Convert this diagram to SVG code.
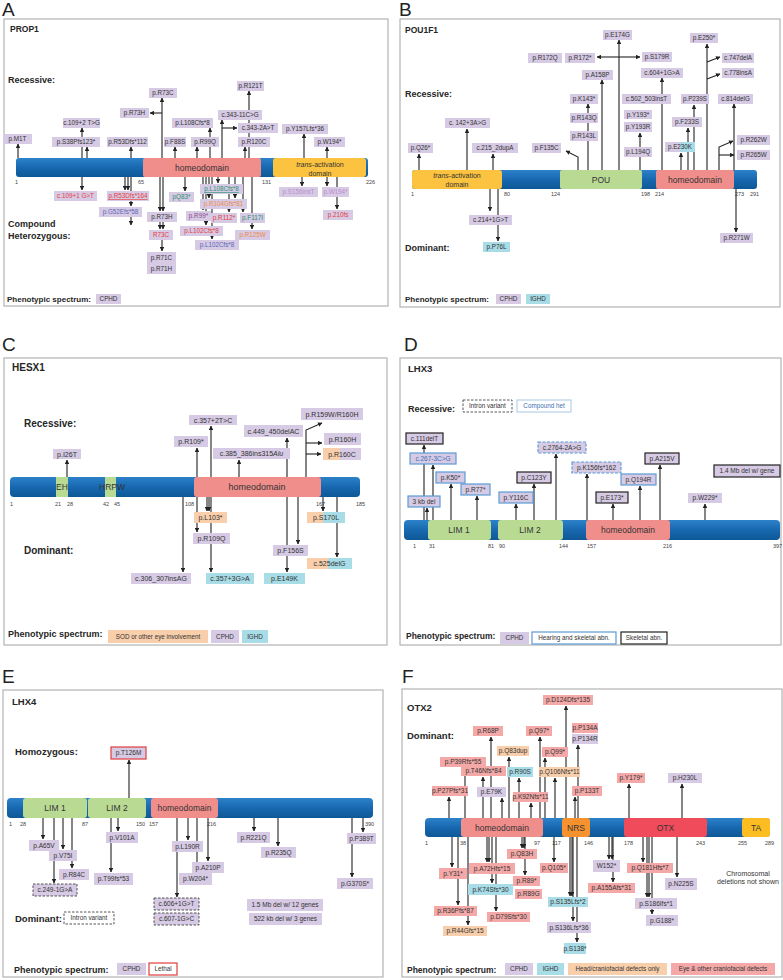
<svg xmlns="http://www.w3.org/2000/svg" width="783" height="980" viewBox="0 0 783 980">
<style>
.l{font-family:"Liberation Sans",Arial,sans-serif;font-size:6.3px;fill:#333;text-anchor:middle}
.l7{font-size:7px}
.l65{font-size:6.5px}
.hd{font-family:"Liberation Sans",Arial,sans-serif;font-weight:bold;fill:#262626}
.pl{font-family:"Liberation Sans",Arial,sans-serif;fill:#222;font-size:19px}
.n{font-family:"Liberation Sans",Arial,sans-serif;font-size:5.5px;fill:#444}
.dm{font-family:"Liberation Sans",Arial,sans-serif;fill:#333;text-anchor:middle}
.p{fill:#d6cae4}.y{fill:#a8dce7}.o{fill:#f9cfab}.k{fill:#f4a9a8}
.bk{stroke:#222;stroke-width:1.2}.bl{stroke:#5b9bd5;stroke-width:1.2}
.ds{stroke:#444;stroke-width:0.9;stroke-dasharray:2.5,1.5}
.bld{stroke:#5b9bd5;stroke-width:1.2;stroke-dasharray:3,1.5}
.wh{fill:#fff}
.c{stroke:#222;stroke-width:1.1;fill:none;marker-end:url(#ah)}
.fr{fill:#fff;stroke:#b3b3b3;stroke-width:1.2}
.bar{fill:url(#blu)}
.hm{fill:#f08e8c}.gr{fill:#b9da93}.ye{fill:#fcc340}
.red{fill:#e63c3c}.org{fill:#ef8a48}.tl{fill:#2a9070}.blt{fill:#5b69b8}.lav{fill:#b98dcc}.mv{fill:#8c4a8c}.bt{fill:#3d6fb5}
</style>
<defs>
<linearGradient id="blu" x1="0" y1="0" x2="0" y2="1"><stop offset="0" stop-color="#2c82c9"/><stop offset="0.5" stop-color="#1868b0"/><stop offset="1" stop-color="#0d5896"/></linearGradient>
<marker id="ah" viewBox="0 0 10 10" refX="9" refY="5" markerWidth="4.5" markerHeight="4.5" markerUnits="userSpaceOnUse" orient="auto"><path d="M0,0 L10,5 L0,10 z" fill="#222"/></marker>
</defs>
<rect width="783" height="980" fill="#fff"/>

<g id="frames">
<rect class="fr" x="4" y="19" width="384" height="287"/>
<rect class="fr" x="400" y="19" width="380" height="288"/>
<rect class="fr" x="4" y="358" width="383" height="287"/>
<rect class="fr" x="400" y="358" width="381" height="287"/>
<rect class="fr" x="3" y="690" width="380" height="287"/>
<rect class="fr" x="402" y="689" width="380" height="288"/>
<text class="pl" x="2" y="16">A</text>
<text class="pl" x="399" y="16">B</text>
<text class="pl" x="2" y="351">C</text>
<text class="pl" x="404" y="351">D</text>
<text class="pl" x="2" y="683">E</text>
<text class="pl" x="402" y="683">F</text>
</g>

<!-- ================= PANEL A ================= -->
<g id="A-text">
<text class="hd" x="10" y="32" font-size="8.5">PROP1</text>
<text class="hd" x="8" y="83" font-size="9">Recessive:</text>
<text class="hd" x="8" y="227" font-size="9">Compound</text>
<text class="hd" x="8" y="239" font-size="9">Heterozygous:</text>
<text class="hd" x="7" y="302" font-size="8">Phenotypic spectrum:</text>
</g>
<g id="A-legend-cphd"><rect class="p" x="96" y="294" width="25" height="10"/><text class="l" x="108.5" y="301.2">CPHD</text></g>
<g id="A-protein">
<rect class="bar" x="16" y="158" width="352" height="19" rx="3"/>
<rect class="hm" x="143" y="158" width="118" height="19" rx="2"/>
<rect class="ye" x="273" y="158" width="93" height="19" rx="3"/>
<text class="dm" x="202" y="171" font-size="8.5">homeodomain</text>
<text class="dm" x="320" y="166.5" font-size="7"><tspan font-style="italic">trans</tspan>-activation</text>
<text class="dm" x="320" y="175.5" font-size="7">domain</text>
<text class="n" x="15" y="184">1</text><text class="n" x="138" y="184">65</text><text class="n" x="262" y="184">131</text><text class="n" x="366" y="184">226</text>
</g>

<!-- ================= PANEL B ================= -->
<g id="B-text">
<text class="hd" x="405" y="33" font-size="8.5">POU1F1</text>
<text class="hd" x="405" y="97" font-size="9">Recessive:</text>
<text class="hd" x="405" y="251" font-size="9">Dominant:</text>
<text class="hd" x="405" y="302" font-size="8">Phenotypic spectrum:</text>
</g>
<g id="B-legend-cphd"><rect class="p" x="496" y="294" width="25" height="10"/><text class="l" x="508.5" y="301.2">CPHD</text></g>
<g id="B-legend-ighd"><rect class="y" x="526" y="294" width="24" height="10"/><text class="l" x="538" y="301.2">IGHD</text></g>
<g id="B-protein">
<rect class="bar" x="412" y="170" width="345" height="19" rx="3"/>
<rect class="ye" x="412" y="170" width="90" height="19" rx="3"/>
<rect class="gr" x="560" y="170" width="82" height="19" rx="2"/>
<rect class="hm" x="656" y="170" width="78" height="19" rx="2"/>
<text class="dm" x="457" y="178" font-size="7"><tspan font-style="italic">trans</tspan>-activation</text>
<text class="dm" x="457" y="187" font-size="7">domain</text>
<text class="dm" x="601" y="183" font-size="8.5">POU</text>
<text class="dm" x="695" y="183" font-size="8.5">homeodomain</text>
<text class="n" x="411" y="196">1</text><text class="n" x="504" y="196">80</text><text class="n" x="551" y="196">124</text><text class="n" x="641" y="196">198</text><text class="n" x="655" y="196">214</text><text class="n" x="735" y="196">273</text><text class="n" x="750" y="196">291</text>
</g>

<!-- ================= PANEL C ================= -->
<g id="C-text">
<text class="hd" x="12" y="371" font-size="10">HESX1</text>
<text class="hd" x="24" y="427" font-size="10">Recessive:</text>
<text class="hd" x="24" y="554" font-size="10">Dominant:</text>
<text class="hd" x="8" y="637" font-size="9">Phenotypic spectrum:</text>
</g>
<g id="C-legend-sod"><rect class="o" x="108" y="630" width="100" height="13"/><text class="l" x="158" y="638.8">SOD or other eye involvement</text></g>
<g id="C-legend-cphd"><rect class="p" x="211" y="630" width="28" height="13"/><text class="l" x="225" y="638.8">CPHD</text></g>
<g id="C-legend-ighd"><rect class="y" x="242" y="630" width="26" height="13"/><text class="l" x="255" y="638.8">IGHD</text></g>
<g id="C-protein">
<rect class="bar" x="10" y="477" width="350" height="20" rx="4"/>
<rect class="gr" x="56" y="477" width="12" height="20"/>
<rect class="gr" x="105" y="477" width="11" height="20"/>
<rect class="hm" x="194" y="477" width="127" height="20" rx="3"/>
<text class="dm" x="62" y="490" font-size="8.5">EH</text>
<text class="dm" x="112" y="490" font-size="8.5">HRPW</text>
<text class="dm" x="257" y="490" font-size="9">homeodomain</text>
<text class="n" x="10" y="506">1</text><text class="n" x="55" y="506">21</text><text class="n" x="67" y="506">28</text><text class="n" x="103" y="506">42</text><text class="n" x="114" y="506">45</text><text class="n" x="185" y="506">108</text><text class="n" x="316" y="506">167</text><text class="n" x="356" y="506">185</text>
</g>

<!-- ================= PANEL D ================= -->
<g id="D-text">
<text class="hd" x="408" y="372" font-size="9.5">LHX3</text>
<text class="hd" x="408" y="412" font-size="9">Recessive:</text>
<text class="hd" x="406" y="639" font-size="8.5">Phenotypic spectrum:</text>
</g>
<g id="D-legend-intron"><rect class="wh ds" x="463" y="400" width="49" height="12"/><text class="l" x="487.5" y="408.2">Intron variant</text></g>
<g id="D-legend-comp"><rect class="wh" x="517" y="400" width="54" height="12" stroke="#a9c8e6" stroke-width="1"/><text class="l bt" x="544" y="408.2">Compound het</text></g>
<g id="D-legend-cphd"><rect class="p" x="500" y="632" width="29" height="12"/><text class="l" x="514.5" y="640.2">CPHD</text></g>
<g id="D-legend-hear"><rect class="wh bl" x="532" y="632" width="84" height="12"/><text class="l" x="574" y="640.2">Hearing and skeletal abn.</text></g>
<g id="D-legend-skel"><rect class="wh bk" x="621" y="632" width="46" height="12"/><text class="l" x="644" y="640.2">Skeletal abn.</text></g>
<g id="D-protein">
<rect class="bar" x="404" y="520" width="376" height="20" rx="4"/>
<rect class="gr" x="428" y="520" width="63" height="20" rx="3"/>
<rect class="gr" x="498" y="520" width="65" height="20" rx="3"/>
<rect class="hm" x="586" y="520" width="84" height="20" rx="3"/>
<text class="dm" x="459" y="533" font-size="8.5">LIM 1</text>
<text class="dm" x="530" y="533" font-size="8.5">LIM 2</text>
<text class="dm" x="628" y="533" font-size="8.5">homeodomain</text>
<text class="n" x="413" y="548">1</text><text class="n" x="429" y="548">31</text><text class="n" x="488" y="548">81</text><text class="n" x="499" y="548">90</text><text class="n" x="559" y="548">144</text><text class="n" x="587" y="548">157</text><text class="n" x="663" y="548">216</text><text class="n" x="773" y="548">397</text>
</g>

<!-- ================= PANEL E ================= -->
<g id="E-text">
<text class="hd" x="12" y="705" font-size="9.5">LHX4</text>
<text class="hd" x="15" y="755" font-size="9.5">Homozygous:</text>
<text class="hd" x="15" y="922" font-size="9.5">Dominant:</text>
<text class="hd" x="14" y="973" font-size="9">Phenotypic spectrum:</text>
</g>
<g id="E-legend-intron"><rect class="wh ds" x="64" y="912" width="50" height="12"/><text class="l" x="89" y="920.2">Intron variant</text></g>
<g id="E-legend-cphd"><rect class="p" x="117" y="963" width="29" height="12"/><text class="l" x="131.5" y="971.2">CPHD</text></g>
<g id="E-legend-lethal"><rect class="wh" x="149" y="963" width="28" height="12" stroke="#e03c3c" stroke-width="1.2"/><text class="l" x="163" y="971.2">Lethal</text></g>
<g id="E-protein">
<rect class="bar" x="7" y="798" width="366" height="20" rx="4"/>
<rect class="gr" x="23" y="798" width="64" height="20" rx="3"/>
<rect class="gr" x="88" y="798" width="58" height="20" rx="3"/>
<rect class="hm" x="151" y="798" width="67" height="20" rx="3"/>
<text class="dm" x="55" y="811" font-size="8.5">LIM 1</text>
<text class="dm" x="117" y="811" font-size="8.5">LIM 2</text>
<text class="dm" x="184.5" y="811" font-size="8.5">homeodomain</text>
<text class="n" x="9" y="826">1</text><text class="n" x="20" y="826">28</text><text class="n" x="82" y="826">87</text><text class="n" x="136" y="826">150</text><text class="n" x="149" y="826">157</text><text class="n" x="207" y="826">216</text><text class="n" x="365" y="826">390</text>
</g>

<!-- ================= PANEL F ================= -->
<g id="F-text">
<text class="hd" x="407" y="711" font-size="9.5">OTX2</text>
<text class="hd" x="407" y="739" font-size="9.5">Dominant:</text>
<text class="hd" x="407" y="973" font-size="8.5">Phenotypic spectrum:</text>
<text class="dm" x="748" y="876" font-size="7">Chromosomal</text>
<text class="dm" x="748" y="884" font-size="7">deletions not shown</text>
</g>
<g id="F-legend-cphd"><rect class="p" x="505" y="963" width="28" height="12"/><text class="l" x="519" y="971.2">CPHD</text></g>
<g id="F-legend-ighd"><rect class="y" x="537" y="963" width="27" height="12"/><text class="l" x="550.5" y="971.2">IGHD</text></g>
<g id="F-legend-head"><rect class="o" x="568" y="963" width="99" height="12"/><text class="l" x="617.5" y="971.2">Head/craniofacial defects only</text></g>
<g id="F-legend-eye"><rect class="k" x="671" y="963" width="104" height="12"/><text class="l" x="723" y="971.2">Eye &amp; other craniofacial defects</text></g>
<g id="F-protein">
<rect class="bar" x="425" y="818" width="345" height="19" rx="4"/>
<rect class="hm" x="461" y="818" width="82" height="19" rx="3"/>
<rect x="562" y="818" width="28" height="19" rx="3" fill="#f7922e"/>
<rect x="624" y="818" width="83" height="19" rx="3" fill="#ef4b5b"/>
<rect x="742" y="818" width="28" height="19" rx="3" fill="#fbbd22"/>
<text class="dm" x="502" y="831" font-size="8.5">homeodomain</text>
<text class="dm" x="576" y="831" font-size="8.5">NRS</text>
<text class="dm" x="665.5" y="831" font-size="8.5">OTX</text>
<text class="dm" x="756" y="831" font-size="8.5">TA</text>
<text class="n" x="425" y="845">1</text><text class="n" x="460" y="845">38</text><text class="n" x="534" y="845">97</text><text class="n" x="552" y="845">117</text><text class="n" x="584" y="845">146</text><text class="n" x="624" y="845">178</text><text class="n" x="696" y="845">243</text><text class="n" x="738" y="845">255</text><text class="n" x="765" y="845">289</text>
</g>

<!-- ================= CONNECTORS ================= -->
<g id="connectors">
<line class="c" x1="18" y1="158" x2="18" y2="144"/>
<line class="c" x1="82" y1="158" x2="82" y2="128"/>
<line class="c" x1="87" y1="158" x2="87" y2="147"/>
<line class="c" x1="131" y1="158" x2="131" y2="147"/>
<line class="c" x1="162" y1="158" x2="162" y2="98"/>
<line class="c" x1="162" y1="113" x2="150" y2="113"/>
<line class="c" x1="175" y1="158" x2="175" y2="147"/>
<line class="c" x1="210" y1="158" x2="210" y2="128"/>
<line class="c" x1="197" y1="158" x2="197" y2="147"/>
<line class="c" x1="222" y1="158" x2="222" y2="120"/>
<line class="c" x1="222" y1="128" x2="237" y2="128"/>
<line class="c" x1="249" y1="158" x2="249" y2="91"/>
<line class="c" x1="245" y1="158" x2="245" y2="147"/>
<line class="c" x1="304" y1="158" x2="304" y2="134"/>
<line class="c" x1="327" y1="158" x2="327" y2="147"/>
<line class="c" x1="82" y1="177" x2="82" y2="190"/>
<line class="c" x1="125" y1="177" x2="125" y2="190"/>
<line class="c" x1="128" y1="177" x2="128" y2="190"/>
<line class="c" x1="131" y1="177" x2="131" y2="206"/>
<line class="c" x1="131" y1="217" x2="131" y2="225"/>
<line class="c" x1="160" y1="177" x2="160" y2="211"/>
<line class="c" x1="163" y1="177" x2="163" y2="211"/>
<line class="c" x1="160" y1="222" x2="160" y2="229"/>
<line class="c" x1="163" y1="222" x2="163" y2="229"/>
<line class="c" x1="162" y1="240" x2="162" y2="251"/>
<line class="c" x1="185" y1="177" x2="185" y2="191"/>
<line class="c" x1="203" y1="177" x2="203" y2="210"/>
<line class="c" x1="206" y1="177" x2="206" y2="225"/>
<line class="c" x1="209" y1="177" x2="209" y2="198"/>
<line class="c" x1="212" y1="177" x2="212" y2="239"/>
<line class="c" x1="218" y1="177" x2="218" y2="183"/>
<line class="c" x1="229" y1="177" x2="229" y2="212"/>
<line class="c" x1="235" y1="177" x2="235" y2="198"/>
<line class="c" x1="243" y1="177" x2="243" y2="212"/>
<line class="c" x1="252" y1="177" x2="252" y2="229"/>
<line class="c" x1="302" y1="177" x2="302" y2="186"/>
<line class="c" x1="327" y1="177" x2="327" y2="186"/>
<line class="c" x1="337" y1="177" x2="337" y2="209"/>
<line class="c" x1="419" y1="170" x2="419" y2="154"/>
<line class="c" x1="467" y1="170" x2="467" y2="129"/>
<line class="c" x1="493" y1="170" x2="493" y2="154"/>
<polyline class="c" points="578,170 578,157 566,151"/>
<line class="c" x1="588" y1="170" x2="588" y2="104"/>
<line class="c" x1="602" y1="170" x2="602" y2="80"/>
<line class="c" x1="619" y1="170" x2="619" y2="40"/>
<line class="c" x1="619" y1="57" x2="597" y2="57"/>
<line class="c" x1="619" y1="57" x2="640" y2="57"/>
<line class="c" x1="662" y1="170" x2="662" y2="78"/>
<line class="c" x1="640" y1="170" x2="640" y2="133"/>
<line class="c" x1="707" y1="170" x2="707" y2="44"/>
<line class="c" x1="707" y1="62" x2="720" y2="57"/>
<line class="c" x1="707" y1="79" x2="720" y2="74"/>
<line class="c" x1="694" y1="170" x2="694" y2="105"/>
<line class="c" x1="688" y1="170" x2="688" y2="128"/>
<line class="c" x1="681" y1="170" x2="681" y2="153"/>
<line class="c" x1="734" y1="170" x2="734" y2="104"/>
<polyline class="c" points="719,170 719,147 733,141"/>
<line class="c" x1="719" y1="155" x2="734" y2="155"/>
<line class="c" x1="736" y1="189" x2="736" y2="232"/>
<line class="c" x1="490" y1="189" x2="490" y2="211"/>
<line class="c" x1="498" y1="189" x2="498" y2="241"/>
<line class="c" x1="67" y1="477" x2="67" y2="460"/>
<line class="c" x1="197" y1="477" x2="197" y2="448"/>
<line class="c" x1="211" y1="477" x2="211" y2="426"/>
<line class="c" x1="239" y1="477" x2="239" y2="460"/>
<line class="c" x1="287" y1="477" x2="287" y2="438"/>
<polyline class="c" points="306,477 306,430 322,423"/>
<line class="c" x1="306" y1="443" x2="322" y2="443"/>
<line class="c" x1="306" y1="454" x2="321" y2="454"/>
<line class="c" x1="197" y1="497" x2="197" y2="532"/>
<line class="c" x1="211" y1="497" x2="211" y2="572"/>
<line class="c" x1="287" y1="497" x2="287" y2="572"/>
<line class="c" x1="207" y1="497" x2="207" y2="511"/>
<line class="c" x1="209" y1="497" x2="209" y2="511"/>
<line class="c" x1="183" y1="497" x2="183" y2="572"/>
<line class="c" x1="298" y1="497" x2="298" y2="544"/>
<line class="c" x1="323" y1="497" x2="323" y2="511"/>
<line class="c" x1="337" y1="497" x2="337" y2="557"/>
<line class="c" x1="424" y1="520" x2="424" y2="445"/>
<line class="c" x1="433" y1="520" x2="433" y2="465"/>
<line class="c" x1="451" y1="520" x2="451" y2="484"/>
<line class="c" x1="477" y1="520" x2="477" y2="496"/>
<line class="c" x1="427" y1="520" x2="427" y2="508"/>
<line class="c" x1="516" y1="520" x2="516" y2="504"/>
<line class="c" x1="534" y1="520" x2="534" y2="484"/>
<line class="c" x1="556" y1="520" x2="556" y2="454"/>
<line class="c" x1="587" y1="520" x2="587" y2="474"/>
<line class="c" x1="613" y1="520" x2="613" y2="504"/>
<line class="c" x1="640" y1="520" x2="640" y2="486"/>
<line class="c" x1="660" y1="520" x2="660" y2="465"/>
<line class="c" x1="705" y1="520" x2="705" y2="504"/>
<line class="c" x1="129" y1="798" x2="129" y2="760"/>
<line class="c" x1="43" y1="818" x2="43" y2="839"/>
<line class="c" x1="63" y1="818" x2="63" y2="849"/>
<line class="c" x1="72" y1="818" x2="72" y2="868"/>
<line class="c" x1="54" y1="818" x2="54" y2="883"/>
<line class="c" x1="118" y1="818" x2="118" y2="831"/>
<line class="c" x1="111" y1="818" x2="111" y2="872"/>
<line class="c" x1="188" y1="818" x2="188" y2="840"/>
<line class="c" x1="208" y1="818" x2="208" y2="861"/>
<line class="c" x1="197" y1="818" x2="197" y2="872"/>
<line class="c" x1="177" y1="818" x2="177" y2="897"/>
<line class="c" x1="254" y1="818" x2="254" y2="831"/>
<line class="c" x1="278" y1="818" x2="278" y2="846"/>
<line class="c" x1="363" y1="818" x2="363" y2="832"/>
<line class="c" x1="352" y1="818" x2="352" y2="877"/>
<line class="c" x1="449" y1="818" x2="449" y2="797"/>
<line class="c" x1="465" y1="818" x2="465" y2="768"/>
<line class="c" x1="483" y1="818" x2="483" y2="777"/>
<line class="c" x1="491" y1="818" x2="491" y2="737"/>
<line class="c" x1="502" y1="818" x2="502" y2="798"/>
<line class="c" x1="509" y1="818" x2="509" y2="757"/>
<line class="c" x1="519" y1="818" x2="519" y2="778"/>
<line class="c" x1="531" y1="818" x2="531" y2="803"/>
<line class="c" x1="540" y1="818" x2="540" y2="737"/>
<line class="c" x1="545" y1="818" x2="545" y2="758"/>
<line class="c" x1="555" y1="818" x2="555" y2="778"/>
<line class="c" x1="566" y1="818" x2="566" y2="706"/>
<line class="c" x1="578" y1="818" x2="578" y2="745"/>
<line class="c" x1="575" y1="818" x2="575" y2="797"/>
<line class="c" x1="629" y1="818" x2="629" y2="784"/>
<line class="c" x1="682" y1="818" x2="682" y2="784"/>
<line class="c" x1="452" y1="837" x2="452" y2="867"/>
<line class="c" x1="458" y1="837" x2="458" y2="905"/>
<line class="c" x1="468" y1="837" x2="468" y2="925"/>
<line class="c" x1="487" y1="837" x2="487" y2="862"/>
<line class="c" x1="489" y1="837" x2="489" y2="862"/>
<line class="c" x1="492" y1="837" x2="492" y2="883"/>
<line class="c" x1="496" y1="837" x2="496" y2="911"/>
<line class="c" x1="522" y1="837" x2="522" y2="848"/>
<line class="c" x1="524" y1="837" x2="524" y2="848"/>
<line class="c" x1="525" y1="837" x2="525" y2="875"/>
<line class="c" x1="554" y1="837" x2="554" y2="862"/>
<line class="c" x1="570" y1="837" x2="570" y2="896"/>
<line class="c" x1="572" y1="837" x2="572" y2="896"/>
<line class="c" x1="573" y1="837" x2="573" y2="921"/>
<line class="c" x1="577" y1="837" x2="577" y2="942"/>
<line class="c" x1="609" y1="837" x2="609" y2="859"/>
<line class="c" x1="612" y1="837" x2="612" y2="859"/>
<line class="c" x1="613" y1="837" x2="613" y2="882"/>
<line class="c" x1="643" y1="837" x2="643" y2="862"/>
<line class="c" x1="647" y1="837" x2="647" y2="897"/>
<line class="c" x1="649" y1="837" x2="649" y2="897"/>
<line class="c" x1="652" y1="837" x2="652" y2="914"/>
<line class="c" x1="677" y1="837" x2="677" y2="877"/>
</g>

<!-- ================= NODES A ================= -->
<g id="a-m1t"><rect class="p" x="3" y="134" width="29" height="10"/><text class="l" x="17.5" y="141.2">p.M1T</text></g>
<g id="a-c109p2"><rect class="p" x="63" y="118" width="37" height="10"/><text class="l" x="81.5" y="125.2">c.109+2 T&gt;G</text></g>
<g id="a-s38"><rect class="p" x="52" y="137" width="48" height="10"/><text class="l" x="76" y="144.2">p.S38Pfs123*</text></g>
<g id="a-r53-112"><rect class="p" x="107" y="137" width="41" height="10"/><text class="l" x="127.5" y="144.2">p.R53Dfs*112</text></g>
<g id="a-r73c"><rect class="p" x="149" y="88" width="28" height="10"/><text class="l" x="163" y="95.2">p.R73C</text></g>
<g id="a-r73h"><rect class="p" x="120" y="108" width="29" height="10"/><text class="l" x="134.5" y="115.2">p.R73H</text></g>
<g id="a-f88s"><rect class="p" x="164" y="137" width="22" height="10"/><text class="l" x="175" y="144.2">p.F88S</text></g>
<g id="a-l108"><rect class="p" x="172" y="118" width="41" height="10"/><text class="l" x="192.5" y="125.2">p.L108Cfs*8</text></g>
<g id="a-r99q"><rect class="p" x="191" y="137" width="28" height="10"/><text class="l" x="205" y="144.2">p.R99Q</text></g>
<g id="a-c343-11"><rect class="p" x="218" y="110" width="44" height="10"/><text class="l" x="240" y="117.2">c.343-11C&gt;G</text></g>
<g id="a-c343-2"><rect class="p" x="238" y="123" width="40" height="10"/><text class="l" x="258" y="130.2">c.343-2A&gt;T</text></g>
<g id="a-r121t"><rect class="p" x="237" y="81" width="27" height="10"/><text class="l" x="250.5" y="88.2">p.R121T</text></g>
<g id="a-r120c"><rect class="p" x="238" y="137" width="32" height="10"/><text class="l" x="254" y="144.2">p.R120C</text></g>
<g id="a-y157"><rect class="p" x="282" y="124" width="46" height="10"/><text class="l" x="305" y="131.2">p.Y157Lfs*36</text></g>
<g id="a-w194"><rect class="p" x="314" y="137" width="31" height="10"/><text class="l" x="329.5" y="144.2">p.W194*</text></g>
<g id="a-c109p1"><rect class="p" x="54" y="191" width="43" height="10"/><text class="l red" x="75.5" y="198.2">c.109+1 G&gt;T</text></g>
<g id="a-r53-164"><rect class="p" x="107" y="191" width="42" height="10"/><text class="l red" x="128" y="198.2" text-decoration="underline">p.R53Dfs*164</text></g>
<g id="a-g52"><rect class="p" x="99" y="207" width="43" height="10"/><text class="l blt" x="120.5" y="214.2">p.G52Efs*58</text></g>
<g id="a-r73h-ch"><rect class="p" x="147" y="212" width="30" height="10"/><text class="l" x="162" y="219.2">p.R73H</text></g>
<g id="a-r73c-ch"><rect class="p" x="149" y="230" width="24" height="10"/><text class="l red" x="161" y="237.2">R73C</text></g>
<g id="a-r71"><rect class="p" x="147" y="252" width="29" height="22"/><text class="l" x="161.5" y="259.5">p.R71C</text><text class="l" x="161.5" y="270.5">p.R71H</text></g>
<g id="a-q83"><rect class="p" x="169" y="192" width="25" height="10"/><text class="l tl" x="181.5" y="199.2">pQ83*</text></g>
<g id="a-l108-ch"><rect class="p" x="200" y="184" width="43" height="10"/><text class="l tl" x="221.5" y="191.2" text-decoration="underline">p.L108Cfs*8</text></g>
<g id="a-r104"><rect class="p" x="200" y="199" width="47" height="10"/><text class="l org" x="223.5" y="206.2">p.R104Gfs*81</text></g>
<g id="a-r99s"><rect class="p" x="186" y="211" width="25" height="10"/><text class="l mv" x="198.5" y="218.2">p.R99*</text></g>
<g id="a-r112"><rect class="p" x="211" y="213" width="26" height="10"/><text class="l red" x="224" y="220.2">p.R112*</text></g>
<g id="a-f117"><rect class="p" x="240" y="213" width="25" height="10"/><text class="l tl" x="252.5" y="220.2">p.F117I</text></g>
<g id="a-l102r"><rect class="p" x="180" y="226" width="43" height="10"/><text class="l red" x="201.5" y="233.2">p.L102Cfs*8</text></g>
<g id="a-r125"><rect class="p" x="235" y="230" width="35" height="10"/><text class="l org" x="252.5" y="237.2">p.R125W</text></g>
<g id="a-l102b"><rect class="p" x="195" y="240" width="44" height="10"/><text class="l blt" x="217" y="247.2">p.L102Cfs*8</text></g>
<g id="a-s156"><rect class="p" x="279" y="187" width="39" height="10"/><text class="l lav" x="298.5" y="194.2">p.S156insT</text></g>
<g id="a-w194-ch"><rect class="p" x="322" y="187" width="27" height="10"/><text class="l lav" x="335.5" y="194.2">p.W194*</text></g>
<g id="a-210fs"><rect class="p" x="323" y="210" width="30" height="10"/><text class="l red" x="338" y="217.2">p.210fs</text></g>

<!-- ================= NODES B ================= -->
<g id="b-q26"><rect class="p" x="408" y="143" width="25" height="10"/><text class="l" x="420.5" y="150.2">p.Q26*</text></g>
<g id="b-c142"><rect class="p" x="445" y="118" width="45" height="10"/><text class="l" x="467.5" y="125.2">c. 142+3A&gt;G</text></g>
<g id="b-c215"><rect class="p" x="472" y="143" width="46" height="10"/><text class="l" x="495" y="150.2">c.215_2dupA</text></g>
<g id="b-f135"><rect class="p" x="532" y="143" width="29" height="10"/><text class="l" x="546.5" y="150.2">p.F135C</text></g>
<g id="b-r172q"><rect class="p" x="528" y="53" width="34" height="10"/><text class="l" x="545" y="60.2">p.R172Q</text></g>
<g id="b-r172s"><rect class="p" x="565" y="53" width="30" height="10"/><text class="l" x="580" y="60.2">p.R172*</text></g>
<g id="b-e174"><rect class="p" x="603" y="30" width="29" height="10"/><text class="l" x="617.5" y="37.2">p.E174G</text></g>
<g id="b-s179"><rect class="p" x="642" y="52" width="30" height="10"/><text class="l" x="657" y="59.2">p.S179R</text></g>
<g id="b-a158"><rect class="p" x="582" y="70" width="31" height="10"/><text class="l" x="597.5" y="77.2">p.A158P</text></g>
<g id="b-k143"><rect class="p" x="570" y="94" width="28" height="10"/><text class="l" x="584" y="101.2">p.K143*</text></g>
<g id="b-r143q"><rect class="p" x="570" y="113" width="28" height="10"/><text class="l" x="584" y="120.2">p.R143Q</text></g>
<g id="b-r143l"><rect class="p" x="570" y="131" width="28" height="10"/><text class="l" x="584" y="138.2">p.R143L</text></g>
<g id="b-c604"><rect class="p" x="641" y="68" width="42" height="10"/><text class="l" x="662" y="75.2">c.604+1G&gt;A</text></g>
<g id="b-c502"><rect class="p" x="622" y="94" width="49" height="10"/><text class="l" x="646.5" y="101.2">c.502_503insT</text></g>
<g id="b-y193s"><rect class="p" x="624" y="110" width="28" height="9"/><text class="l" x="638" y="116.7">p.Y193*</text></g>
<g id="b-y193r"><rect class="p" x="624" y="122" width="28" height="10"/><text class="l" x="638" y="129.2">p.Y193R</text></g>
<g id="b-l194"><rect class="p" x="624" y="147" width="28" height="10"/><text class="l" x="638" y="154.2">p.L194Q</text></g>
<g id="b-e250"><rect class="p" x="690" y="33" width="28" height="10"/><text class="l" x="704" y="40.2">p.E250*</text></g>
<g id="b-c747"><rect class="p" x="722" y="53" width="32" height="10"/><text class="l" x="738" y="60.2">c.747delA</text></g>
<g id="b-c778"><rect class="p" x="722" y="68" width="32" height="10"/><text class="l" x="738" y="75.2">c.778insA</text></g>
<g id="b-p239"><rect class="p" x="681" y="94" width="28" height="10"/><text class="l" x="695" y="101.2">p.P239S</text></g>
<g id="b-f233"><rect class="p" x="672" y="117" width="30" height="10"/><text class="l" x="687" y="124.2">p.F233S</text></g>
<g id="b-e230"><rect class="p" x="665" y="142" width="15" height="10"/><rect class="y" x="680" y="142" width="15" height="10"/><text class="l" x="680" y="149.2">p.E230K</text></g>
<g id="b-c814"><rect class="p" x="718" y="94" width="35" height="10"/><text class="l" x="735.5" y="101.2">c.814delG</text></g>
<g id="b-r262"><rect class="p" x="737" y="135" width="33" height="10"/><text class="l" x="753.5" y="142.2">p.R262W</text></g>
<g id="b-r265"><rect class="p" x="737" y="150" width="33" height="10"/><text class="l" x="753.5" y="157.2">p.R265W</text></g>
<g id="b-r271"><rect class="p" x="720" y="233" width="33" height="10"/><text class="l" x="736.5" y="240.2">p.R271W</text></g>
<g id="b-c214"><rect class="p" x="469" y="215" width="43" height="10"/><text class="l" x="490.5" y="222.2">c.214+1G&gt;T</text></g>
<g id="b-p76l"><rect class="y" x="483" y="242" width="27" height="10"/><text class="l" x="496.5" y="249.2">p.P76L</text></g>

<!-- ================= NODES C ================= -->
<g id="c-i26t"><rect class="p" x="53" y="449" width="28" height="10"/><text class="l l7" x="67" y="456.5">p.I26T</text></g>
<g id="c-r109s"><rect class="p" x="174" y="436" width="34" height="11"/><text class="l l7" x="191" y="444">p.R109*</text></g>
<g id="c-c357p2"><rect class="p" x="189" y="415" width="48" height="10"/><text class="l l7" x="213" y="422.5">c.357+2T&gt;C</text></g>
<g id="c-c385"><rect class="p" x="213" y="448" width="77" height="11"/><text class="l l7" x="251.5" y="456">c.385_386ins315<tspan font-style="italic">Alu</tspan></text></g>
<g id="c-c449"><rect class="p" x="244" y="425" width="59" height="12"/><text class="l l7" x="273.5" y="433.5">c.449_450delAC</text></g>
<g id="c-r159"><rect class="p" x="301" y="408" width="62" height="12"/><text class="l l7" x="332" y="416.5">p.R159W/R160H</text></g>
<g id="c-r160h"><rect class="p" x="324" y="433" width="37" height="12"/><text class="l l7" x="342.5" y="441.5">p.R160H</text></g>
<g id="c-r160c"><rect class="o" x="323" y="448" width="17" height="12"/><rect class="p" x="340" y="448" width="21" height="12"/><text class="l l7" x="342" y="456.5">p.R160C</text></g>
<g id="c-l103"><rect class="o" x="194" y="512" width="33" height="11"/><text class="l l7" x="210.5" y="520">p.L103*</text></g>
<g id="c-r109q"><rect class="p" x="193" y="533" width="37" height="11"/><text class="l l7" x="211.5" y="541">p.R109Q</text></g>
<g id="c-c306"><rect class="p" x="131" y="573" width="60" height="11"/><text class="l l7" x="161" y="581">c.306_307insAG</text></g>
<g id="c-c357p3"><rect class="y" x="206" y="573" width="48" height="11"/><text class="l l7" x="230" y="581">c.357+3G&gt;A</text></g>
<g id="c-e149"><rect class="y" x="264" y="573" width="41" height="11"/><text class="l l7" x="284.5" y="581">p.E149K</text></g>
<g id="c-f156"><rect class="p" x="273" y="545" width="35" height="11"/><text class="l l7" x="290.5" y="553">p.F156S</text></g>
<g id="c-s170"><rect class="o" x="307" y="512" width="16" height="11"/><rect class="y" x="323" y="512" width="22" height="11"/><text class="l l7" x="326" y="520">p.S170L</text></g>
<g id="c-c525"><rect class="o" x="307" y="558" width="21" height="11"/><rect class="y" x="328" y="558" width="24" height="11"/><text class="l l7" x="329.5" y="566">c.525delG</text></g>

<!-- ================= NODES D ================= -->
<g id="d-c111"><rect class="p bk" x="406" y="433" width="37" height="11"/><text class="l l65" x="424.5" y="440.8">c.111delT</text></g>
<g id="d-c267"><rect class="p bl" x="410" y="453" width="46" height="11"/><text class="l l65 bt" x="433" y="460.8">c.267-3C&gt;G</text></g>
<g id="d-k50"><rect class="p bl" x="436" y="472" width="29" height="11"/><text class="l l65" x="450.5" y="479.8">p.K50*</text></g>
<g id="d-r77"><rect class="p bl" x="461" y="484" width="29" height="11"/><text class="l l65" x="475.5" y="491.8">p.R77*</text></g>
<g id="d-3kb"><rect class="p bl" x="408" y="496" width="32" height="11"/><text class="l l65" x="424" y="503.8">3 kb del</text></g>
<g id="d-y116"><rect class="p bl" x="499" y="492" width="34" height="11"/><text class="l l65" x="516" y="499.8">p.Y116C</text></g>
<g id="d-c123"><rect class="p bk" x="517" y="472" width="34" height="11"/><text class="l l65" x="534" y="479.8">p.C123Y</text></g>
<g id="d-c2764"><rect class="p bld" x="538" y="442" width="48" height="11"/><text class="l l65" x="562" y="449.8">c.2764-2A&gt;G</text></g>
<g id="d-k156"><rect class="p bld" x="572" y="462" width="49" height="11"/><text class="l l65" x="596.5" y="469.8">p.K156fs*162</text></g>
<g id="d-e173"><rect class="p bk" x="596" y="492" width="32" height="11"/><text class="l l65" x="612" y="499.8">p.E173*</text></g>
<g id="d-q194"><rect class="p bl" x="621" y="474" width="35" height="11"/><text class="l l65" x="638.5" y="481.8">p.Q194R</text></g>
<g id="d-a215"><rect class="p bk" x="645" y="453" width="34" height="11"/><text class="l l65" x="662" y="460.8">p.A215V</text></g>
<g id="d-w229"><rect class="p" x="688" y="493" width="34" height="10"/><text class="l l65" x="705" y="500.3">p.W229*</text></g>
<g id="d-14mb"><rect class="p bk" x="714" y="465" width="66" height="12"/><text class="l l65" x="747" y="473.3">1.4 Mb del w/ gene</text></g>

<!-- ================= NODES E ================= -->
<g id="e-t126"><rect class="p" x="111" y="747" width="35" height="12" stroke="#e03c3c" stroke-width="1.2"/><text class="l l65" x="128.5" y="755.3">p.T126M</text></g>
<g id="e-a65"><rect class="p" x="29" y="840" width="30" height="11"/><text class="l l65" x="44" y="847.8">p.A65V</text></g>
<g id="e-v75"><rect class="p" x="49" y="850" width="28" height="11"/><text class="l l65" x="63" y="857.8">p.V75I</text></g>
<g id="e-r84"><rect class="p" x="59" y="869" width="30" height="11"/><text class="l l65" x="74" y="876.8">p.R84C</text></g>
<g id="e-c249"><rect class="p ds" x="33" y="884" width="44" height="12"/><text class="l l65" x="55" y="892.3">c.249-1G&gt;A</text></g>
<g id="e-v101"><rect class="p" x="106" y="832" width="32" height="11"/><text class="l l65" x="122" y="839.8">p.V101A</text></g>
<g id="e-t99"><rect class="p" x="94" y="873" width="39" height="12"/><text class="l l65" x="113.5" y="881.3">p.T99fs*53</text></g>
<g id="e-l190"><rect class="p" x="172" y="841" width="31" height="11"/><text class="l l65" x="187.5" y="848.8">p.L190R</text></g>
<g id="e-a210"><rect class="p" x="192" y="862" width="32" height="11"/><text class="l l65" x="208" y="869.8">p.A210P</text></g>
<g id="e-w204"><rect class="p" x="179" y="873" width="33" height="12"/><text class="l l65" x="195.5" y="881.3">p.W204*</text></g>
<g id="e-c606"><rect class="p ds" x="154" y="898" width="45" height="12"/><text class="l l65" x="176.5" y="906.3">c.606+1G&gt;T</text></g>
<g id="e-c607"><rect class="p ds" x="154" y="913" width="45" height="12"/><text class="l l65" x="176.5" y="921.3">c.607-1G&gt;C</text></g>
<g id="e-r221"><rect class="p" x="237" y="832" width="33" height="11"/><text class="l l65" x="253.5" y="839.8">p.R221Q</text></g>
<g id="e-r235"><rect class="p" x="261" y="847" width="35" height="11"/><text class="l l65" x="278.5" y="854.8">p.R235Q</text></g>
<g id="e-15mb"><rect class="p" x="247" y="899" width="76" height="12"/><text class="l l65" x="285" y="907.3">1.5 Mb del w/ 12 genes</text></g>
<g id="e-522kb"><rect class="p" x="249" y="913" width="73" height="12"/><text class="l l65" x="285.5" y="921.3">522 kb del w/ 3 genes</text></g>
<g id="e-p389"><rect class="p" x="347" y="833" width="29" height="11"/><text class="l l65" x="361.5" y="840.8">p.P389T</text></g>
<g id="e-g370"><rect class="p" x="337" y="878" width="36" height="11"/><text class="l l65" x="355" y="885.8">p.G370S*</text></g>

<!-- ================= NODES F ================= -->
<g id="f-p27"><rect class="k" x="432" y="786" width="36" height="10"/><text class="l l65" x="450" y="793.3">p.P27Pfs*31</text></g>
<g id="f-p39"><rect class="k" x="440" y="757" width="46" height="10"/><text class="l l65" x="463" y="764.3">p.P39Rfs*55</text></g>
<g id="f-t46"><rect class="k" x="461" y="766" width="45" height="10"/><text class="l l65" x="483.5" y="773.3">p.T46Nfs*84</text></g>
<g id="f-r68"><rect class="k" x="473" y="726" width="30" height="10"/><text class="l l65" x="488" y="733.3">p.R68P</text></g>
<g id="f-e79"><rect class="p" x="477" y="787" width="29" height="10"/><text class="l l65" x="491.5" y="794.3">p.E79K</text></g>
<g id="f-q83dup"><rect class="o" x="497" y="746" width="32" height="10"/><text class="l l65" x="513" y="753.3">p.Q83dup</text></g>
<g id="f-r90"><rect class="y" x="507" y="767" width="26" height="10"/><text class="l l65" x="520" y="774.3">p.R90S</text></g>
<g id="f-k92"><rect class="k" x="513" y="792" width="35" height="10"/><text class="l l65" x="530.5" y="799.3">p.K92Nfs*11</text></g>
<g id="f-q97"><rect class="k" x="526" y="726" width="26" height="10"/><text class="l l65" x="539" y="733.3">p.Q97*</text></g>
<g id="f-q99"><rect class="k" x="542" y="747" width="26" height="10"/><text class="l l65" x="555" y="754.3">p.Q99*</text></g>
<g id="f-q106"><rect class="o" x="539" y="767" width="41" height="10"/><text class="l l65" x="559.5" y="774.3">p.Q106Nfs*11</text></g>
<g id="f-d124"><rect class="k" x="543" y="695" width="50" height="10"/><text class="l l65" x="568" y="702.3">p.D124Dfs*135</text></g>
<g id="f-p134a"><rect class="k" x="572" y="723" width="26" height="10"/><text class="l l65" x="585" y="730.3">p.P134A</text></g>
<g id="f-p134r"><rect class="p" x="572" y="734" width="26" height="10"/><text class="l l65" x="585" y="741.3">p.P134R</text></g>
<g id="f-p133"><rect class="k" x="572" y="786" width="30" height="10"/><text class="l l65" x="587" y="793.3">p.P133T</text></g>
<g id="f-y179"><rect class="k" x="617" y="773" width="28" height="10"/><text class="l l65" x="631" y="780.3">p.Y179*</text></g>
<g id="f-h230"><rect class="p" x="668" y="773" width="34" height="10"/><text class="l l65" x="685" y="780.3">p.H230L</text></g>
<g id="f-y31"><rect class="k" x="439" y="868" width="28" height="11"/><text class="l l65" x="453" y="875.8">p.Y31*</text></g>
<g id="f-r36"><rect class="k" x="434" y="906" width="43" height="10"/><text class="l l65" x="455.5" y="913.3">p.R36Pfs*87</text></g>
<g id="f-r44"><rect class="o" x="443" y="926" width="44" height="10"/><text class="l l65" x="465" y="933.3">p.R44Gfs*15</text></g>
<g id="f-a72"><rect class="k" x="469" y="863" width="46" height="11"/><text class="l l65" x="492" y="870.8">p.A72Hfs*15</text></g>
<g id="f-k74"><rect class="y" x="468" y="884" width="45" height="11"/><text class="l l65" x="490.5" y="891.8">p.K74Sfs*30</text></g>
<g id="f-d79"><rect class="k" x="487" y="912" width="43" height="10"/><text class="l l65" x="508.5" y="919.3">p.D79Sfs*30</text></g>
<g id="f-q83h"><rect class="k" x="507" y="849" width="30" height="10"/><text class="l l65" x="522" y="856.3">p.Q83H</text></g>
<g id="f-r89s"><rect class="k" x="513" y="876" width="27" height="10"/><text class="l l65" x="526.5" y="883.3">p.R89*</text></g>
<g id="f-r89g"><rect class="k" x="515" y="889" width="27" height="10"/><text class="l l65" x="528.5" y="896.3">p.R89G</text></g>
<g id="f-q105"><rect class="k" x="540" y="863" width="28" height="10"/><text class="l l65" x="554" y="870.3">p.Q105*</text></g>
<g id="f-s135"><rect class="y" x="548" y="897" width="40" height="10"/><text class="l l65" x="568" y="904.3">p.S135Lfs*2</text></g>
<g id="f-s136"><rect class="p" x="547" y="922" width="44" height="11"/><text class="l l65" x="569" y="929.8">p.S136Lfs*36</text></g>
<g id="f-s138"><rect class="y" x="564" y="943" width="22" height="11"/><text class="l l65" x="575" y="950.8">p.S138*</text></g>
<g id="f-w152"><rect class="p" x="593" y="860" width="27" height="12"/><text class="l l65" x="606.5" y="868.3">W152*</text></g>
<g id="f-a155"><rect class="k" x="588" y="883" width="47" height="10"/><text class="l l65" x="611.5" y="890.3">p.A155Afs*31</text></g>
<g id="f-q181"><rect class="k" x="627" y="863" width="46" height="10"/><text class="l l65" x="650" y="870.3">p.Q181Hfs*7</text></g>
<g id="f-s186"><rect class="p" x="635" y="898" width="42" height="11"/><text class="l l65" x="656" y="905.8">p.S186Ifs*1</text></g>
<g id="f-g188"><rect class="p" x="646" y="915" width="32" height="11"/><text class="l l65" x="662" y="922.8">p.G188*</text></g>
<g id="f-n225"><rect class="p" x="665" y="878" width="32" height="12"/><text class="l l65" x="681" y="886.3">p.N225S</text></g>
</svg>
